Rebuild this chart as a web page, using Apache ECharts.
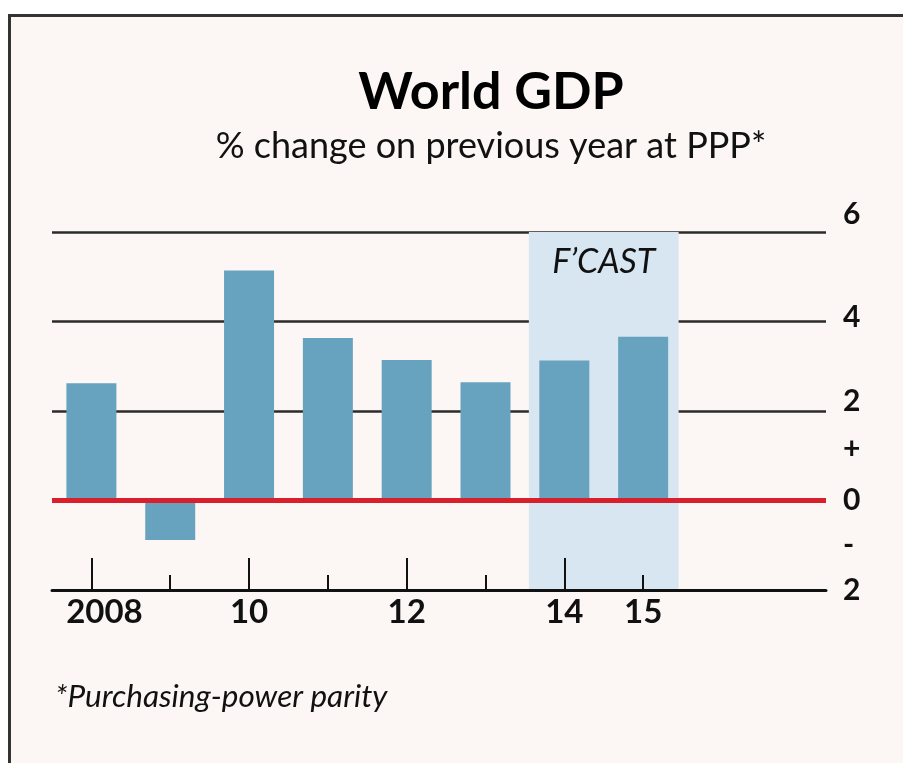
<!DOCTYPE html>
<html><head><meta charset="utf-8">
<script src="https://cdn.jsdelivr.net/npm/echarts@6/dist/echarts.min.js"></script>
<style>html,body{margin:0;padding:0;background:#fff}#c{width:903px;height:763px}</style>
</head><body><div id="c"></div>
<script>
// ---- data ----
const years = [2008, 2009, 2010, 2011, 2012, 2013, 2014, 2015];
const gdpGrowth = [2.62, -0.88, 5.14, 3.63, 3.14, 2.64, 3.13, 3.66];
const labelYears = [2008, 2010, 2012, 2014, 2015];
const xTickLabels = ['2008', '10', '12', '14', '15'];
const majorTickYears = [2008, 2010, 2012, 2014];
const minorTickYears = [2009, 2011, 2013, 2015];
const forecastYears = [2014, 2015];
const forecastLabel = 'F\u2019CAST';
const yTickValues = [6, 4, 2, 1, 0, -1, -2];
const yTickLabels = ['6', '4', '2', '+', '0', '-', '2'];
const titleText = 'World GDP';
const subtitleText = '% change on previous year at PPP*';
const footnoteText = '*Purchasing-power parity';
const xMin = years[0] - 0.5;
const xMax = 2017.32;

// ---- styles ----
const FONT = 'Lato';
const INK = '#111';
const yLabelShift = {'6': 36, '4': 8, '2': 20, '1': 12};

const chart = echarts.init(document.getElementById('c'), null, {renderer: 'canvas'});

const yRich = {};
Object.keys(yLabelShift).forEach(k => {
  yRich['s' + k] = {padding: [0, 0, yLabelShift[k], 0], fontFamily: FONT, fontWeight: 'bold', fontSize: 30, color: INK};
});
yRich.n = {fontFamily: FONT, fontWeight: 'bold', fontSize: 30, color: INK};

const option = {
  backgroundColor: '#ffffff',
  animation: false,
  graphic: [
    {type: 'rect', z: -100, silent: true,
     shape: {x: 9.5, y: 15.5, width: 2000, height: 2000},
     style: {fill: '#fcf7f4', stroke: '#333', lineWidth: 3}},
    {type: 'text', z: 10, silent: true, x: 491, y: 92,
     style: {text: titleText, font: 'bold 52px ' + FONT, fill: '#000', textAlign: 'center', textVerticalAlign: 'middle', align: 'center', verticalAlign: 'middle'}},
    {type: 'text', z: 10, silent: true, x: 491, y: 146,
     style: {text: subtitleText, font: '36px ' + FONT, fill: INK, textAlign: 'center', textVerticalAlign: 'middle', align: 'center', verticalAlign: 'middle'}},
    {type: 'text', z: 10, silent: true, x: 55, y: 697,
     style: {text: footnoteText, font: 'italic 31.5px ' + FONT, fill: INK, textAlign: 'left', textVerticalAlign: 'middle', align: 'left', verticalAlign: 'middle'}}
  ],
  grid: {left: 52, right: 77, top: 232, bottom: 173, containLabel: false},
  xAxis: [
    {type: 'value', min: xMin, max: xMax, position: 'bottom', z: 3,
     axisLine: {onZero: false, lineStyle: {color: INK, width: 3}},
     axisTick: {show: true, inside: true, length: 32, customValues: majorTickYears,
                lineStyle: {color: INK, width: 2}},
     axisLabel: {customValues: labelYears, margin: 6, color: INK, fontFamily: FONT, fontWeight: 'bold', fontSize: 33,
                 formatter: v => {
                   const i = labelYears.indexOf(v);
                   if (i < 0) return '';
                   return i === 0 ? '{first|' + xTickLabels[i] + '}' : xTickLabels[i];
                 },
                 rich: {first: {padding: [0, 0, 0, 26], fontFamily: FONT, fontWeight: 'bold', fontSize: 33, color: INK}}},
     splitLine: {show: false}},
    {type: 'value', min: xMin, max: xMax, position: 'bottom', z: 3,
     axisLine: {show: false, onZero: false},
     axisTick: {show: true, inside: true, length: 15, customValues: minorTickYears,
                lineStyle: {color: INK, width: 2}},
     axisLabel: {show: false}, splitLine: {show: false}}
  ],
  yAxis: [
    {type: 'value', min: -2, max: 6, interval: 2, position: 'right',
     axisLine: {show: false}, axisTick: {show: false}, axisLabel: {show: false},
     splitLine: {show: true, lineStyle: {color: '#2b2b2b', width: 2.5}}},
    {type: 'value', min: -2, max: 6, interval: 1, position: 'right',
     axisLine: {show: false}, axisTick: {show: false}, splitLine: {show: false},
     axisLabel: {show: true, margin: 17, align: 'left', color: INK, fontFamily: FONT, fontWeight: 'bold', fontSize: 30,
       rich: yRich,
       formatter: v => {
         const i = yTickValues.indexOf(v);
         if (i < 0) return '';
         const key = String(v);
         return yLabelShift[key] !== undefined ? '{s' + key + '|' + yTickLabels[i] + '}' : '{n|' + yTickLabels[i] + '}';
       }}}
  ],
  series: [
    {type: 'custom', name: 'forecast', z: 1, silent: true, xAxisIndex: 0, yAxisIndex: 0,
     data: [[forecastYears[0], forecastYears[forecastYears.length - 1]]],
     encode: {x: [0, 1]},
     renderItem: (params, api) => {
       const x0 = api.coord([api.value(0) - 0.45, 0])[0];
       const x1 = api.coord([api.value(1) + 0.45, 0])[0];
       const cs = params.coordSys;
       return {type: 'group', children: [
         {type: 'rect', shape: {x: x0, y: cs.y, width: x1 - x0, height: cs.height},
          style: {fill: '#d7e6f0'}},
         {type: 'text', x: (x0 + x1) / 2, y: cs.y + 30,
          style: {text: forecastLabel, font: 'italic 34px ' + FONT, fill: INK,
                  textAlign: 'center', textVerticalAlign: 'middle', align: 'center', verticalAlign: 'middle'}}
       ]};
     }},
    {type: 'bar', name: 'GDP', data: years.map((y, i) => [y, gdpGrowth[i]]), barWidth: 50, z: 2,
     xAxisIndex: 0, yAxisIndex: 0,
     itemStyle: {color: '#67a3be'},
     markLine: {silent: true, symbol: ['none', 'none'], label: {show: false},
                lineStyle: {color: '#d91f2c', width: 5, type: 'solid'},
                data: [{yAxis: 0}]}}
  ]
};
chart.setOption(option);
</script></body></html>
